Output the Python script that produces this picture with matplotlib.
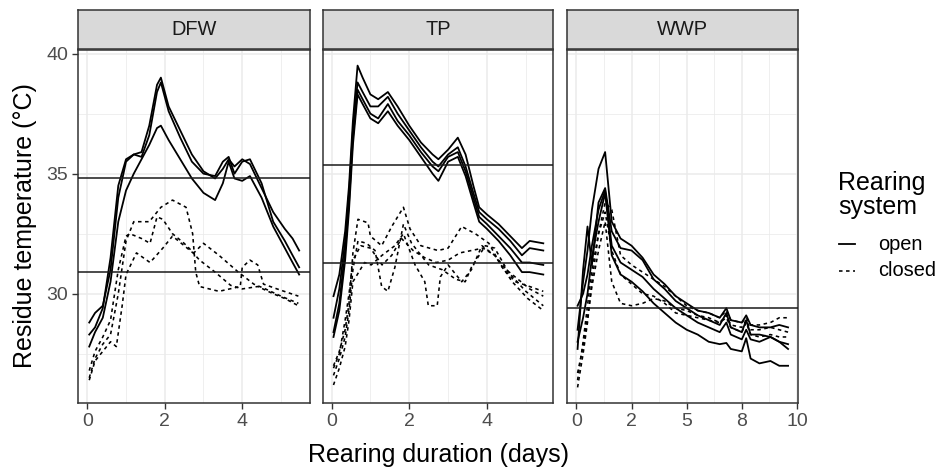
import matplotlib
matplotlib.use("Agg")
import matplotlib.pyplot as plt
from matplotlib.lines import Line2D

plt.rcParams['font.family'] = ['Liberation Sans', 'DejaVu Sans']

# ---- data ----
dfw_days_open = [0.05, 0.2, 0.4, 0.6, 0.8, 1.0, 1.2, 1.4, 1.6, 1.8, 1.9, 2.1, 2.4, 2.7, 3.0, 3.3, 3.5, 3.65, 3.8, 4.0, 4.2, 4.5, 4.8, 5.1, 5.3, 5.47]
dfw_open_1 = [28.3, 28.6, 29.4, 31.5, 34.5, 35.6, 35.8, 35.9, 37.0, 38.7, 39.0, 37.8, 36.8, 35.8, 35.1, 34.8, 35.2, 35.6, 35.3, 35.6, 35.4, 34.4, 33.4, 32.7, 32.3, 31.8]
dfw_open_2 = [28.8, 29.2, 29.5, 31.0, 34.0, 35.5, 35.8, 35.7, 36.6, 38.4, 38.8, 37.6, 36.5, 35.5, 35.0, 34.9, 35.5, 35.7, 35.0, 35.5, 35.6, 34.6, 33.0, 32.2, 31.6, 31.1]
dfw_open_3 = [27.8, 28.4, 29.0, 30.5, 33.0, 34.3, 35.0, 35.6, 36.2, 36.9, 37.0, 36.4, 35.6, 34.8, 34.2, 33.9, 34.6, 35.5, 34.8, 34.7, 34.9, 34.0, 32.8, 31.9, 31.3, 30.8]

dfw_days_closed_1 = [0.05, 0.2, 0.4, 0.6, 0.8, 1.0, 1.2, 1.6, 1.9, 2.2, 2.55, 2.72, 2.8, 2.9, 3.4, 3.95, 4.0, 4.2, 4.4, 4.55, 4.9, 5.45]
dfw_closed_1 = [26.5, 27.3, 27.9, 28.3, 30.0, 32.2, 33.0, 33.0, 33.6, 33.9, 33.6, 32.5, 30.9, 30.3, 30.1, 30.3, 31.1, 31.4, 31.2, 30.4, 30.2, 29.9]
dfw_days_closed_2 = [0.05, 0.2, 0.4, 0.6, 0.8, 1.0, 1.1, 1.4, 1.62, 1.8, 1.95, 2.2, 2.5, 2.75, 3.0, 3.4, 3.9, 4.3, 4.6, 5.0, 5.45]
dfw_closed_2 = [26.8, 27.6, 28.2, 28.9, 31.0, 32.4, 32.5, 32.3, 32.1, 33.2, 33.1, 32.5, 32.1, 31.7, 32.1, 31.6, 30.9, 30.4, 30.2, 29.9, 29.6]
dfw_days_closed_3 = [0.05, 0.2, 0.4, 0.6, 0.75, 0.9, 1.0, 1.27, 1.62, 1.95, 2.2, 2.73, 2.9, 3.3, 3.7, 4.0, 4.4, 4.8, 5.1, 5.45]
dfw_closed_3 = [26.4, 27.2, 27.6, 28.0, 27.8, 29.5, 30.8, 31.7, 31.3, 31.9, 32.4, 31.7, 31.4, 30.9, 30.35, 30.2, 30.3, 30.0, 29.8, 29.5]

tp_days_open = [0.05, 0.2, 0.35, 0.45, 0.55, 0.67, 0.8, 1.0, 1.2, 1.45, 1.7, 2.0, 2.3, 2.6, 2.75, 3.0, 3.25, 3.45, 3.65, 3.8, 4.0, 4.3, 4.6, 4.9, 5.1, 5.45]
tp_open_1 = [29.9, 30.8, 32.6, 34.5, 37.2, 39.5, 39.0, 38.3, 38.1, 38.4, 37.8, 37.0, 36.3, 35.8, 35.6, 36.0, 36.5, 35.8, 34.5, 33.6, 33.3, 32.9, 32.4, 31.9, 32.2, 32.1]
tp_open_2 = [29.0, 30.2, 32.2, 34.2, 36.8, 38.8, 38.4, 37.8, 37.8, 38.2, 37.5, 36.8, 36.1, 35.5, 35.3, 35.8, 36.1, 35.3, 34.2, 33.4, 33.1, 32.7, 32.2, 31.6, 31.9, 31.8]
tp_open_3 = [28.4, 29.6, 31.8, 33.8, 36.5, 38.5, 38.1, 37.5, 37.3, 37.9, 37.2, 36.6, 35.9, 35.3, 35.1, 35.7, 35.9, 35.1, 34.0, 33.2, 32.9, 32.4, 31.9, 31.3, 31.3, 31.2]
tp_open_4 = [28.2, 29.3, 31.4, 33.5, 36.2, 38.3, 37.9, 37.3, 37.1, 37.6, 37.0, 36.4, 35.7, 35.0, 34.7, 35.5, 35.7, 34.9, 33.8, 33.0, 32.7, 32.2, 31.6, 30.9, 30.9, 30.8]

tp_days_closed_1 = [0.05, 0.2, 0.35, 0.45, 0.55, 0.68, 0.94, 1.0, 1.29, 1.55, 1.85, 2.02, 2.3, 2.74, 3.0, 3.35, 3.7, 4.05, 4.39, 4.73, 5.1, 5.45]
tp_closed_1 = [27.0, 27.6, 28.5, 29.6, 31.7, 33.1, 32.95, 32.4, 32.0, 32.8, 33.6, 32.7, 32.0, 31.8, 31.9, 32.8, 32.5, 32.1, 31.1, 30.5, 30.3, 30.1]
tp_days_closed_2 = [0.05, 0.2, 0.35, 0.45, 0.55, 0.68, 0.9, 1.12, 1.29, 1.45, 1.63, 1.85, 2.06, 2.5, 2.85, 3.2, 3.44, 3.6, 3.96, 4.2, 4.55, 5.0, 5.45]
tp_closed_2 = [26.6, 27.3, 28.2, 29.3, 31.0, 32.2, 32.1, 31.8, 30.3, 30.1, 31.1, 32.9, 32.1, 31.2, 31.0, 30.6, 30.5, 31.1, 32.0, 31.9, 30.9, 30.1, 29.5]
tp_days_closed_3 = [0.05, 0.2, 0.35, 0.45, 0.55, 0.85, 1.02, 1.3, 1.63, 1.85, 2.15, 2.4, 2.49, 2.72, 2.8, 3.0, 3.35, 3.6, 3.87, 4.2, 4.65, 5.05, 5.45]
tp_closed_3 = [26.2, 26.9, 27.8, 28.9, 30.5, 31.3, 31.2, 31.6, 32.0, 32.5, 31.2, 30.5, 29.5, 29.5, 30.7, 31.2, 30.5, 31.0, 32.0, 31.6, 30.5, 29.8, 29.3]
tp_days_closed_4 = [0.05, 0.2, 0.35, 0.45, 0.55, 0.75, 1.0, 1.3, 1.55, 1.8, 2.1, 2.4, 2.7, 3.0, 3.3, 3.6, 3.9, 4.2, 4.5, 4.8, 5.1, 5.45]
tp_closed_4 = [26.9, 27.5, 28.9, 30.0, 31.4, 32.0, 31.9, 31.2, 31.6, 32.3, 31.8, 31.5, 31.3, 31.4, 31.7, 31.8, 31.9, 31.6, 31.0, 30.6, 30.2, 29.9]

wwp_days = [0.05, 0.3, 0.5, 0.7, 1.0, 1.3, 1.6, 2.0, 2.5, 3.0, 3.5, 4.0, 4.5, 5.0, 5.5, 6.0, 6.5, 6.8, 7.0, 7.5, 7.7, 7.9, 8.3, 8.8, 9.2, 9.6]
wwp_open_1 = [28.5, 30.5, 31.8, 33.5, 35.2, 35.9, 33.0, 32.3, 32.0, 31.5, 30.8, 30.4, 29.9, 29.6, 29.3, 29.2, 29.0, 29.4, 28.9, 28.8, 29.1, 28.7, 28.6, 28.6, 28.7, 28.6]
wwp_open_2 = [27.7, 31.0, 32.8, 31.2, 33.8, 34.4, 32.6, 31.9, 31.8, 31.4, 30.6, 30.2, 29.7, 29.4, 29.1, 28.9, 28.7, 29.2, 28.6, 28.4, 28.9, 28.3, 28.3, 28.2, 28.0, 27.7]
wwp_open_3 = [29.5, 30.0, 30.8, 32.0, 33.5, 34.3, 32.0, 31.3, 31.0, 30.7, 30.2, 29.8, 29.4, 29.1, 28.8, 28.6, 28.4, 28.8, 28.3, 28.1, 28.5, 28.1, 28.0, 28.2, 28.0, 27.9]
wwp_open_4 = [28.0, 29.0, 30.0, 31.5, 33.0, 34.2, 31.6, 30.8, 30.5, 30.1, 29.6, 29.2, 28.8, 28.5, 28.3, 28.0, 27.9, 27.95, 27.7, 27.6, 28.15, 27.3, 27.1, 27.2, 27.0, 27.0]
wwp_closed_1 = [26.1, 27.5, 28.8, 30.5, 32.5, 33.8, 33.5, 31.6, 31.2, 30.9, 30.6, 30.3, 29.9, 29.5, 29.3, 29.2, 29.0, 29.3, 28.9, 28.8, 29.0, 28.7, 28.7, 28.8, 29.0, 29.0]
wwp_closed_2 = [26.7, 27.8, 29.0, 30.3, 31.8, 33.0, 30.5, 29.6, 29.5, 29.6, 29.8, 29.7, 29.4, 29.3, 29.1, 29.0, 28.8, 29.1, 28.7, 28.6, 28.9, 28.5, 28.5, 28.6, 28.5, 28.4]
wwp_closed_3 = [26.4, 28.0, 29.5, 31.0, 32.5, 33.4, 31.8, 30.8, 30.4, 30.0, 29.9, 29.6, 29.2, 29.1, 29.0, 28.9, 28.8, 29.0, 28.6, 28.4, 28.8, 28.3, 28.2, 28.3, 28.2, 28.2]

dfw_means = [34.8, 30.9]
tp_means = [35.35, 31.3]
wwp_means = [29.4]

sites = ['DFW', 'TP', 'WWP']
open_runs = {
    'DFW': [(dfw_days_open, dfw_open_1), (dfw_days_open, dfw_open_2), (dfw_days_open, dfw_open_3)],
    'TP': [(tp_days_open, tp_open_1), (tp_days_open, tp_open_2), (tp_days_open, tp_open_3), (tp_days_open, tp_open_4)],
    'WWP': [(wwp_days, wwp_open_1), (wwp_days, wwp_open_2), (wwp_days, wwp_open_3), (wwp_days, wwp_open_4)],
}
closed_runs = {
    'DFW': [(dfw_days_closed_1, dfw_closed_1), (dfw_days_closed_2, dfw_closed_2), (dfw_days_closed_3, dfw_closed_3)],
    'TP': [(tp_days_closed_1, tp_closed_1), (tp_days_closed_2, tp_closed_2), (tp_days_closed_3, tp_closed_3), (tp_days_closed_4, tp_closed_4)],
    'WWP': [(wwp_days, wwp_closed_1), (wwp_days, wwp_closed_2), (wwp_days, wwp_closed_3)],
}
means = {'DFW': dfw_means, 'TP': tp_means, 'WWP': wwp_means}

W, H = 942, 469
fig = plt.figure(figsize=(W / 100, H / 100), dpi=100)

panel_left = [78, 323, 567]
panel_width = [232, 230, 231]
panel_top, panel_bottom = 50, 403
strip_top = 10
xlims = {'DFW': (-0.24, 5.75), 'TP': (-0.22, 5.70), 'WWP': (-0.43, 10.05)}

dash = (0, (2.2, 2.2))
grey_text = '#4D4D4D'
border = '#333333'

for i, site in enumerate(sites):
    l = panel_left[i] / W
    w = panel_width[i] / W
    ax = fig.add_axes([l, (H - panel_bottom) / H, w, (panel_bottom - panel_top) / H])
    for x, y in closed_runs[site]:
        ax.plot(x, y, color='black', lw=1.15, linestyle=dash, zorder=3)
    for x, y in open_runs[site]:
        ax.plot(x, y, color='black', lw=1.3, zorder=3)
    for m in means[site]:
        ax.axhline(m, color='#1a1a1a', lw=1.1, zorder=4)

    ax.set_xlim(*xlims[site])
    ax.set_ylim(25.45, 40.15)
    if site == 'WWP':
        ax.set_xticks([0, 2.5, 5, 7.5, 10])
        ax.set_xticklabels(['0', '2', '5', '8', '10'])
        ax.set_xticks([1.25, 3.75, 6.25, 8.75], minor=True)
    else:
        ax.set_xticks([0, 2, 4])
        ax.set_xticklabels(['0', '2', '4'])
        ax.set_xticks([1, 3, 5], minor=True)
    ax.set_yticks([30, 35, 40])
    ax.set_yticks([27.5, 32.5, 37.5], minor=True)
    if i > 0:
        ax.tick_params(axis='y', which='major', left=False, labelleft=False)
    ax.grid(which='major', color='#EBEBEB', lw=1.1, zorder=0)
    ax.grid(which='minor', color='#EBEBEB', lw=0.55, zorder=0)
    ax.set_axisbelow(True)
    ax.tick_params(which='major', length=4, width=1, color=border,
                   labelsize=14, labelcolor=grey_text, pad=3)
    ax.tick_params(which='minor', length=0)
    for sp in ax.spines.values():
        sp.set_color(border)
        sp.set_linewidth(1.1)

    # facet strip
    sax = fig.add_axes([l, (H - panel_top + 1) / H, w, (panel_top - 1 - strip_top) / H])
    sax.set_facecolor('#D9D9D9')
    sax.set_xticks([])
    sax.set_yticks([])
    for sp in sax.spines.values():
        sp.set_color(border)
        sp.set_linewidth(1.1)
    sax.text(0.5, 0.5, site, ha='center', va='center', fontsize=14.4, color='#1A1A1A',
             transform=sax.transAxes)

fig.text(438 / W, 1 - 455 / H, 'Rearing duration (days)', ha='center', va='center', fontsize=18)
fig.text(25 / W, 1 - 226 / H, 'Residue temperature (°C)', ha='center', va='center',
         rotation=90, fontsize=18)

# legend
fig.text(838 / W, 1 - 195 / H, 'Rearing\nsystem', ha='left', va='center', fontsize=18,
         linespacing=1.0)
fig.add_artist(Line2D([839 / W, 855 / W], [1 - 244 / H, 1 - 244 / H], color='black', lw=1.3,
                      transform=fig.transFigure))
fig.add_artist(Line2D([839 / W, 855 / W], [1 - 271 / H, 1 - 271 / H], color='black', lw=1.15,
                      linestyle=dash, transform=fig.transFigure))
fig.text(878 / W, 1 - 244 / H, 'open', ha='left', va='center', fontsize=14.4)
fig.text(878 / W, 1 - 271 / H, 'closed', ha='left', va='center', fontsize=14.4)

fig.savefig('out.png', dpi=100)
